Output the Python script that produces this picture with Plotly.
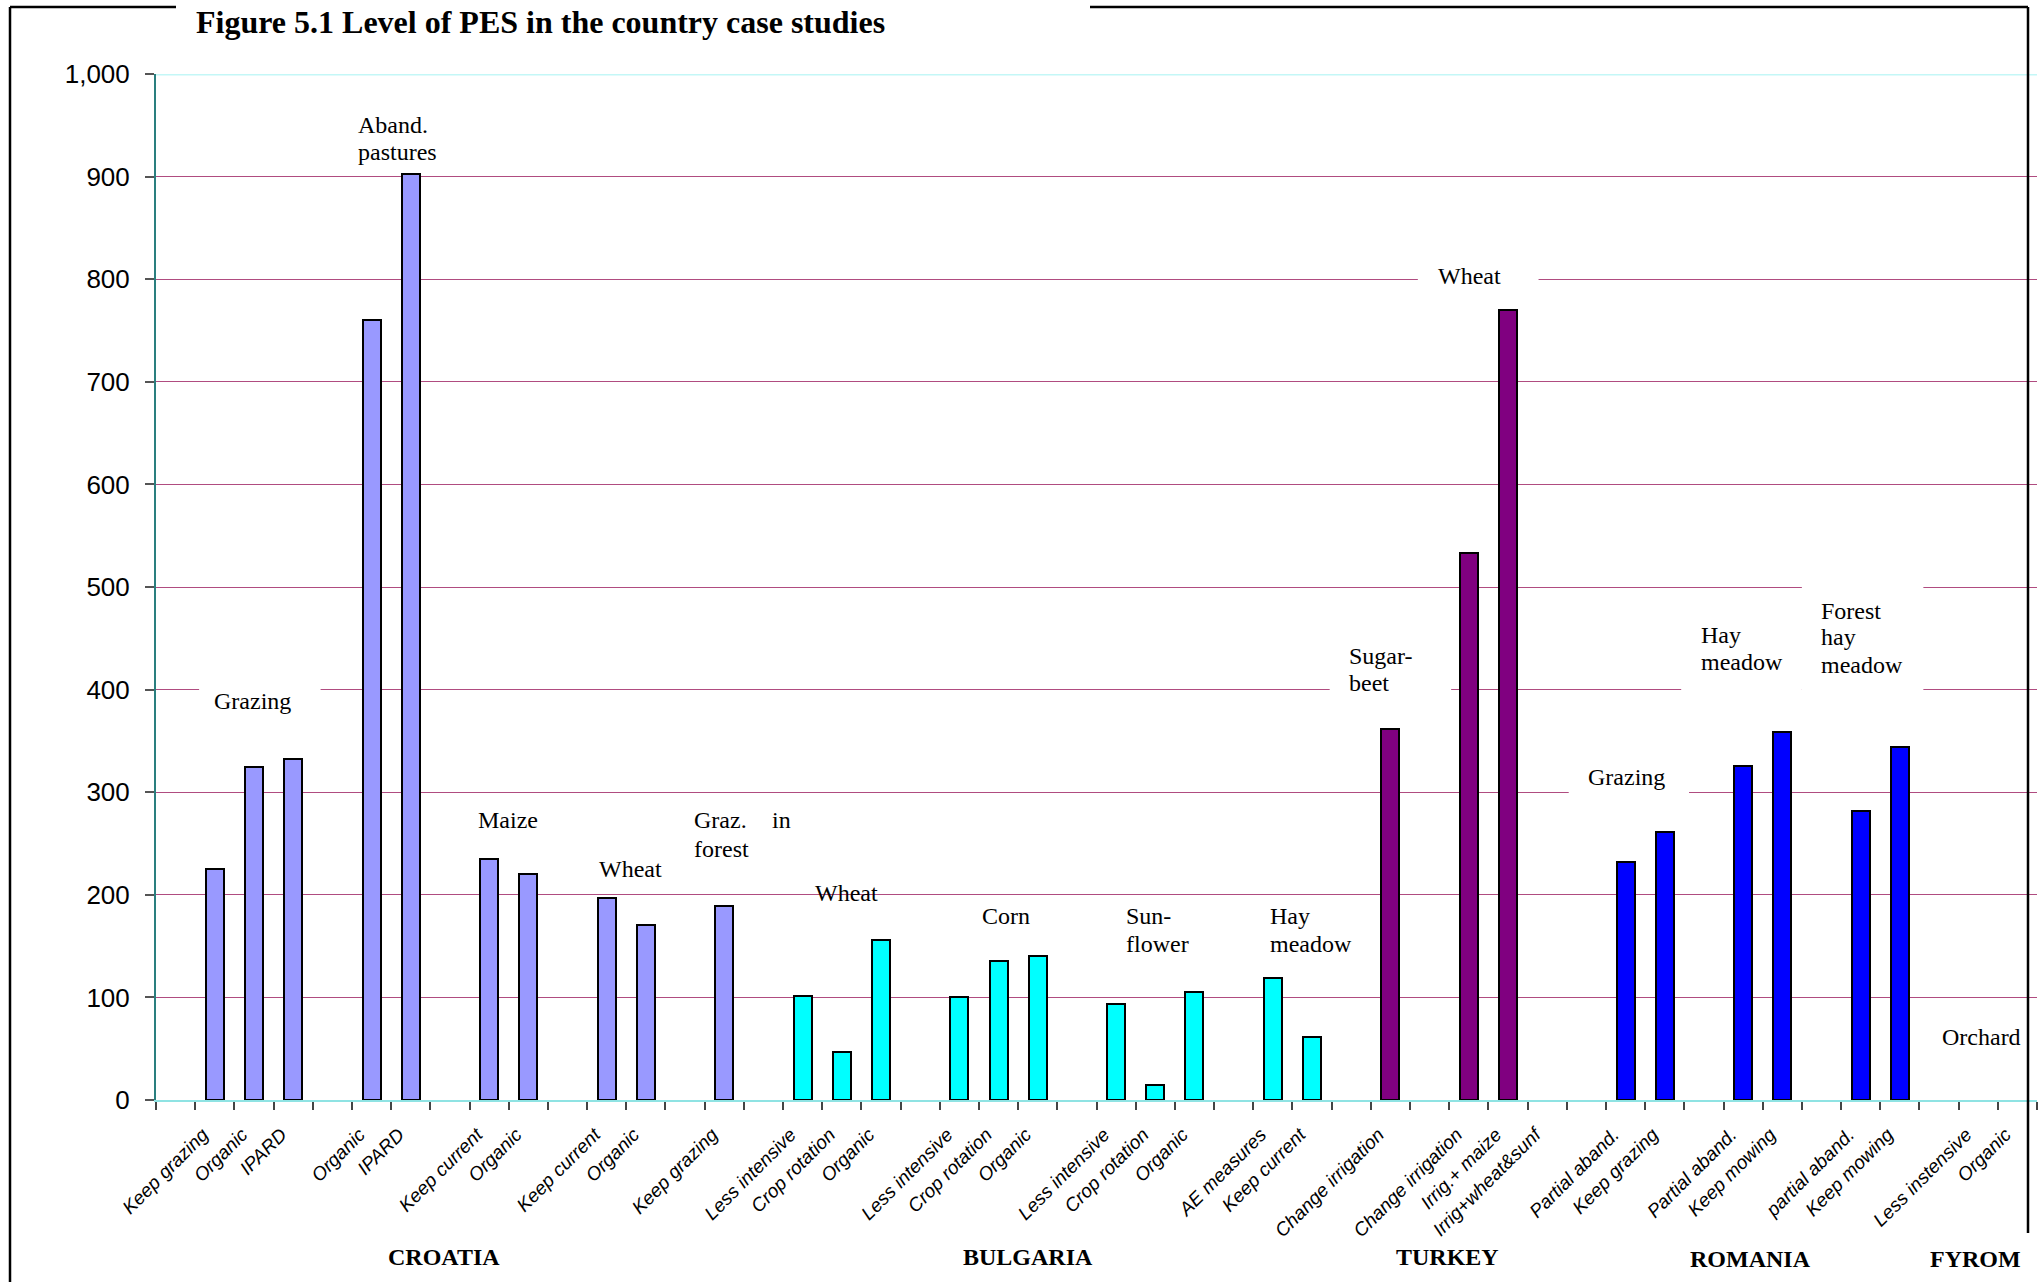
import plotly.graph_objects as go

# ---------------- data ----------------
croatia_labels = ["Keep grazing", "Organic", "IPARD", "Organic", "IPARD",
                  "Keep current", "Organic", "Keep current", "Organic", "Keep grazing"]
croatia_values = [225, 325, 332, 760, 903, 235, 220, 197, 171, 189]
croatia_group_sizes = [3, 2, 2, 2, 1]

bulgaria_labels = ["Less intensive", "Crop rotation", "Organic",
                   "Less intensive", "Crop rotation", "Organic",
                   "Less intensive", "Crop rotation", "Organic",
                   "AE measures", "Keep current"]
bulgaria_values = [101, 47, 156, 100, 135, 140, 94, 15, 105, 119, 61]
bulgaria_group_sizes = [3, 3, 3, 2]

turkey_labels = ["Change irrigation", "Change irrigation", "Irrig.+ maize", "Irrig+wheat&sunf"]
turkey_values = [362, 533, 770, None]
turkey_group_sizes = [1, 3]

romania_labels = ["Partial aband.", "Keep grazing", "Partial aband.", "Keep mowing",
                  "partial aband.", "Keep mowing"]
romania_values = [232, 261, 326, 359, 282, 344]
romania_group_sizes = [2, 2, 2]

fyrom_labels = ["Less instensive", "Organic"]
fyrom_values = [None, None]
fyrom_group_sizes = [2]

countries = ["CROATIA", "BULGARIA", "TURKEY", "ROMANIA", "FYROM"]
y_ticks = [0, 100, 200, 300, 400, 500, 600, 700, 800, 900, 1000]

# ---------------- layout helpers ----------------
colors = ["#9999FF", "#00FFFF", "#800080", "#0000FF", "#FFFFFF"]
series = [
    (croatia_labels, croatia_values, croatia_group_sizes),
    (bulgaria_labels, bulgaria_values, bulgaria_group_sizes),
    (turkey_labels, turkey_values, turkey_group_sizes),
    (romania_labels, romania_values, romania_group_sizes),
    (fyrom_labels, fyrom_values, fyrom_group_sizes),
]

W, H = 2040, 1282
L, R, T, B = 156, 2037, 74, 1100


def xp(px):
    return (px - L) / (R - L)


def yp(py):
    return (B - py) / (B - T)


fig = go.Figure()
all_x, all_text = [], []
slot = 0
for (labels, values, sizes), col in zip(series, colors):
    xs = []
    for n in sizes:
        slot += 1  # gap before each sub-group
        for _ in range(n):
            xs.append(slot)
            slot += 1
    all_x += xs
    all_text += labels
    fig.add_trace(go.Bar(
        x=xs, y=values, width=0.46,
        marker=dict(color=col, line=dict(color="black", width=2)),
        showlegend=False, hoverinfo="skip"))
n_slots = slot
boundaries = [i - 0.5 for i in range(n_slots + 1)]

serif = "Liberation Serif, Times New Roman, serif"
sans = "Liberation Sans, Arial, sans-serif"

annotations = []

# crop / group labels: (text, x_left, y_center)
group_text = [
    ("Grazing", 0.93, 389), ("Aband.", 4.60, 950), ("pastures", 4.60, 924),
    ("Maize", 7.66, 273), ("Wheat", 10.75, 225),
    ("Graz.", 13.17, 273), ("in", 15.17, 273), ("forest", 13.17, 245),
    ("Wheat", 16.27, 202), ("Corn", 20.53, 179),
    ("Sun-", 24.20, 179), ("flower", 24.20, 152),
    ("Hay", 27.88, 179), ("meadow", 27.88, 152),
    ("Sugar-", 29.90, 433), ("beet", 29.90, 406),
    ("Wheat", 32.16, 803),
    ("Grazing", 36.00, 315),
    ("Hay", 38.88, 453), ("meadow", 38.88, 427),
    ("Forest", 41.94, 477), ("hay", 41.94, 451), ("meadow", 41.94, 424),
    ("Orchard", 45.03, 61),
]
for txt, x, y in group_text:
    annotations.append(dict(x=x, y=y, xref="x", yref="y", text=txt, showarrow=False,
                            xanchor="left", yanchor="middle",
                            font=dict(family=serif, size=24, color="black")))

# country labels (x in data units, y in paper units)
country_pos = [(6.85, 1257), (21.75, 1257), (32.45, 1257), (40.2, 1259), (45.92, 1259)]
for name, (x, py) in zip(countries, country_pos):
    annotations.append(dict(x=x, y=yp(py), xref="x", yref="paper", text="<b>" + name + "</b>",
                            showarrow=False, xanchor="center", yanchor="middle",
                            font=dict(family=serif, size=24, color="black")))

# title
annotations.append(dict(x=xp(540), y=yp(22), xref="paper", yref="paper",
                        text="<b>Figure 5.1 Level of PES in the country case studies</b>",
                        showarrow=False, xanchor="center", yanchor="middle",
                        font=dict(family=serif, size=32, color="black")))

shapes = []
# white text boxes that interrupt the gridlines
boxes = [(0.60, 3.70, 360, 418), (29.45, 32.55, 381, 459), (31.70, 34.78, 782, 820),
         (35.55, 38.62, 295, 334), (38.42, 41.50, 390, 484), (41.50, 44.60, 390, 507)]
for x0, x1, y0, y1 in boxes:
    shapes.append(dict(type="rect", xref="x", yref="y", x0=x0, x1=x1, y0=y0, y1=y1,
                       fillcolor="white", line=dict(width=0), layer="above"))
# top gridline (cyan)
shapes.append(dict(type="line", xref="paper", yref="y", x0=0, x1=1, y0=1000, y1=1000,
                   line=dict(color="#C4F7F7", width=3), layer="above"))
# outer frame
fr = dict(color="black", width=2.5)
shapes += [
    dict(type="line", xref="paper", yref="paper", x0=xp(10), x1=xp(10), y0=yp(7), y1=yp(1282), line=fr),
    dict(type="line", xref="paper", yref="paper", x0=xp(10), x1=xp(176), y0=yp(7), y1=yp(7), line=fr),
    dict(type="line", xref="paper", yref="paper", x0=xp(1090), x1=xp(2028), y0=yp(7), y1=yp(7), line=fr),
    dict(type="line", xref="paper", yref="paper", x0=xp(2028), x1=xp(2028), y0=yp(7), y1=yp(1233), line=fr),
]

fig.update_layout(
    width=W, height=H,
    margin=dict(l=L, r=W - R, t=T, b=H - B, autoexpand=False),
    paper_bgcolor="white", plot_bgcolor="white",
    bargap=0, annotations=annotations, shapes=shapes,
    xaxis=dict(range=[-0.5, n_slots - 0.5], tickmode="array", tickvals=all_x,
               ticktext=all_text, tickangle=-45, ticks="", ticklabelstandoff=14,
               ticklabelshift=-12,
               tickfont=dict(family=sans, size=19, color="black", style="italic"),
               showgrid=False, zeroline=False, showline=True,
               linecolor="#8FE3E3", linewidth=2,
               minor=dict(tickmode="array", tickvals=boundaries, ticks="outside",
                          ticklen=8, tickwidth=1.5, tickcolor="#444444", showgrid=False)),
    yaxis=dict(range=[0, 1000], tickmode="array", tickvals=y_ticks, tickformat=",",
               ticks="outside", ticklen=9, tickwidth=1.5, tickcolor="#555555",
               ticklabelstandoff=10,
               tickfont=dict(family=sans, size=26, color="black"),
               showgrid=True, gridcolor="#B04C80", gridwidth=1,
               zeroline=False, showline=True, linecolor="#2A7F7F", linewidth=2),
)

fig.write_html("out.html", config={"displayModeBar": False})
